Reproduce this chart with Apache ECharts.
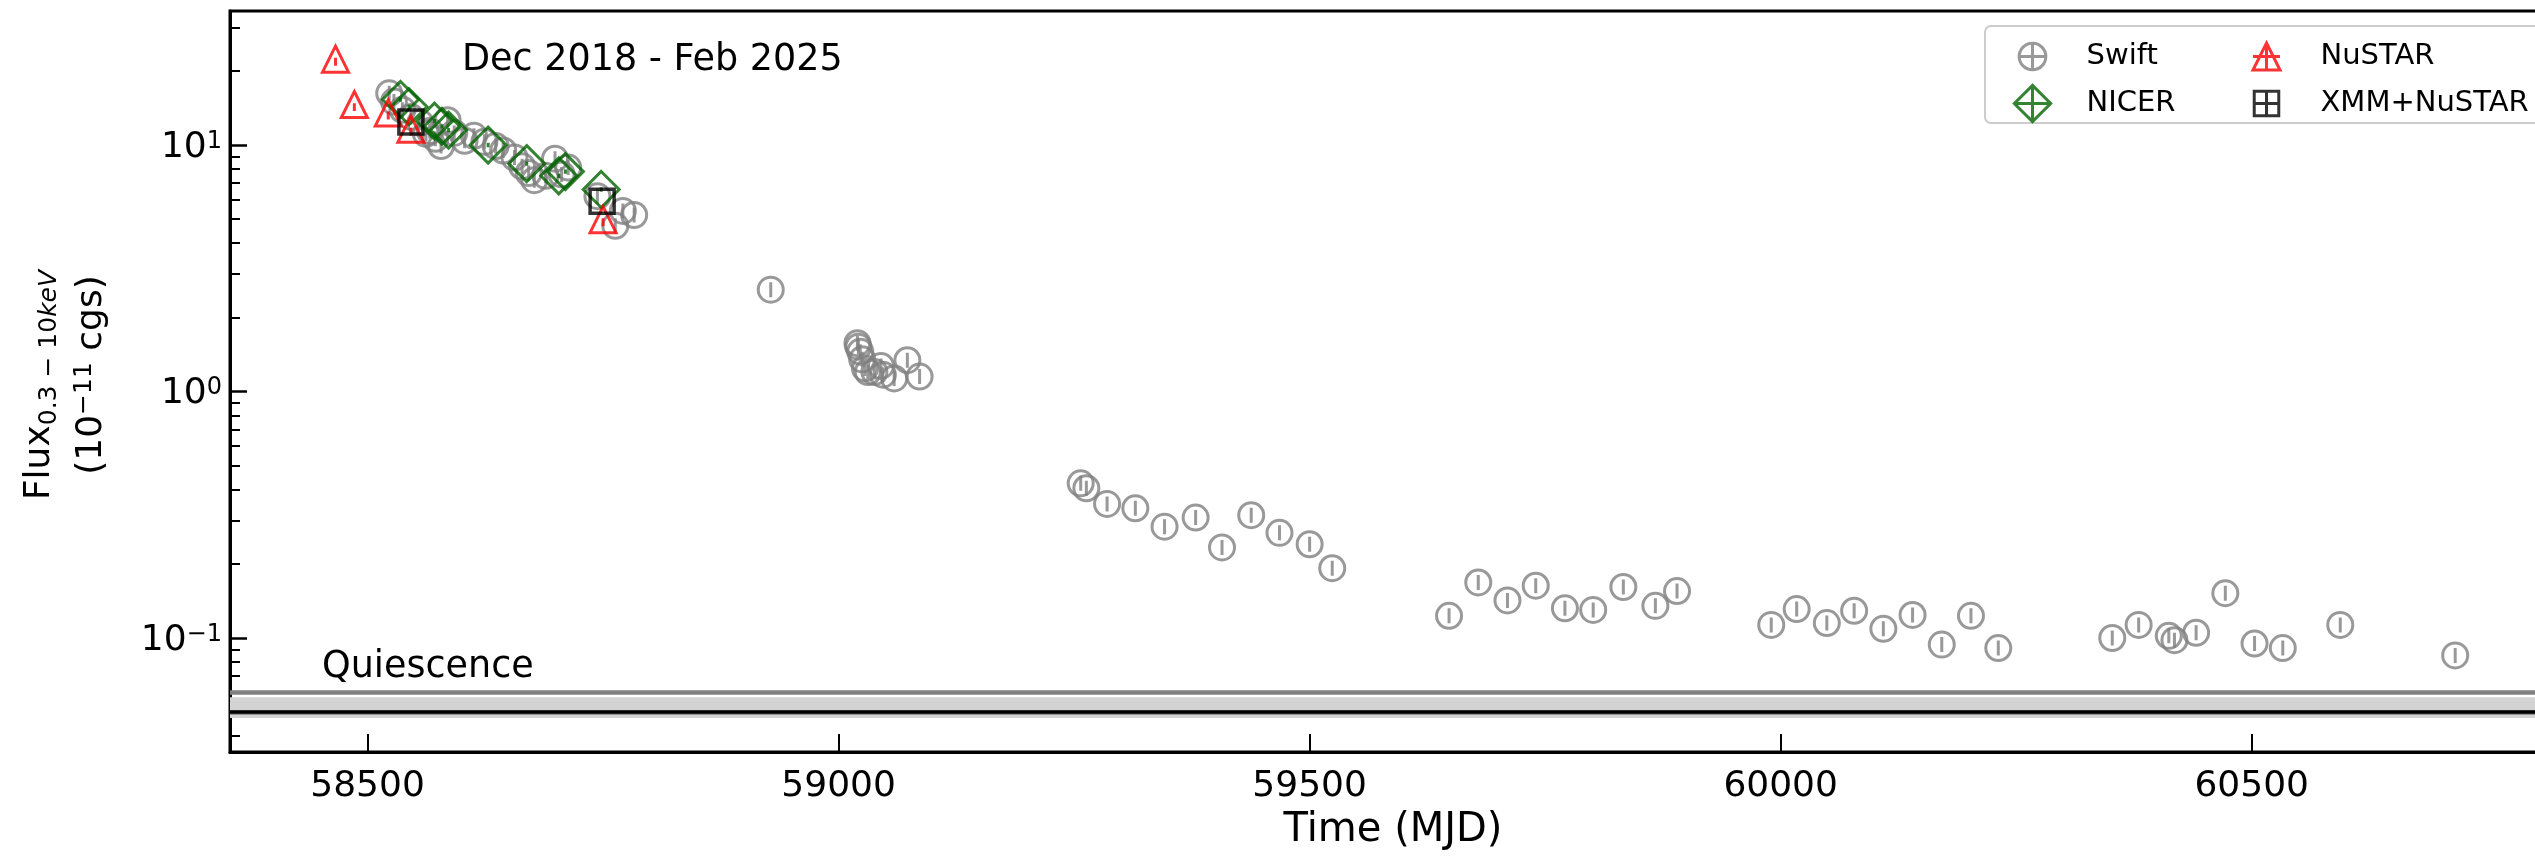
<!DOCTYPE html>
<html>
<head>
<meta charset="utf-8">
<script src="https://cdn.jsdelivr.net/npm/echarts@6.0.0/dist/echarts.min.js"></script>
<style>
  html, body { margin: 0; padding: 0; background: #fff; }
  #chart { width: 2535px; height: 859px; }
</style>
</head>
<body>
<div id="chart"></div>
<script>
// Swift light curve (MJD, flux in 1e-11 cgs)
const swiftMjd = [
  58523, 58528, 58537, 58546, 58556, 58562, 58566, 58572, 58578, 58585,
  58592, 58603, 58613, 58624, 58636, 58644, 58656, 58664, 58671, 58677,
  58689, 58699, 58706, 58713, 58744, 58763, 58771, 58783,
  58928, 59020, 59021, 59023, 59025, 59028, 59031, 59038, 59045, 59047,
  59059, 59073, 59086,
  59257, 59263, 59285, 59315, 59346, 59379, 59407, 59438, 59468, 59500, 59524,
  59648, 59679, 59710, 59740, 59771, 59801, 59833, 59867, 59890,
  59990, 60017, 60049, 60078, 60109, 60140, 60171, 60202, 60231,
  60352, 60380, 60412, 60418, 60441, 60472, 60503, 60533, 60594, 60716
];
const swiftFlux = [
  16.2, 15.0, 13.9, 13.0, 12.3, 11.1, 11.4, 10.6, 9.9, 12.6,
  11.2, 10.4, 10.9, 10.3, 9.9, 9.5, 8.9, 8.2, 7.7, 7.2,
  7.5, 8.8, 7.6, 8.1, 6.2, 4.7, 5.4, 5.2,
  2.59, 1.57, 1.52, 1.45, 1.35, 1.24, 1.20, 1.20, 1.27, 1.17,
  1.13, 1.34, 1.15,
  0.424, 0.405, 0.350, 0.336, 0.283, 0.308, 0.233, 0.315, 0.267, 0.240, 0.192,
  0.123, 0.168, 0.142, 0.163, 0.132, 0.130, 0.161, 0.135, 0.155,
  0.113, 0.131, 0.115, 0.129, 0.109, 0.124, 0.094, 0.123, 0.091,
  0.100, 0.113, 0.102, 0.098, 0.105, 0.152, 0.095, 0.091, 0.113, 0.085
];

const nicerMjd = [58535, 58544, 58571, 58579, 58586, 58628, 58669, 58703, 58710, 58748];
const nicerFlux = [15.3, 14.3, 12.5, 11.9, 11.5, 10.0, 8.4, 7.5, 7.8, 6.6];

const nustarMjd = [58466, 58486, 58522, 58546, 58750];
const nustarFlux = [22.3, 14.6, 13.5, 11.6, 4.98];

const xmmMjd = [58546, 58749];
const xmmFlux = [12.4, 5.91];

// quiescent level and its range
const quiescenceLevel = 0.0525;
const quiescenceRange = [0.0474, 0.0575];

const xTicks = [58500, 59000, 59500, 60000, 60500];
const yMajorTicks = [0.1, 1, 10];
const yMinorTicks = [0.04, 0.05, 0.06, 0.07, 0.08, 0.09,
  0.2, 0.3, 0.4, 0.5, 0.6, 0.7, 0.8, 0.9,
  2, 3, 4, 5, 6, 7, 8, 9, 20, 30];

const FONT = '"DejaVu Sans", "Liberation Sans", sans-serif';
const pairs = (xs, ys) => xs.map((x, i) => [x, ys[i]]);

// marker shapes (outline + small error bar)
const SWIFT_SYMBOL = 'path://M1,0A1,1,0,1,1,-1,0A1,1,0,1,1,1,0ZM0,-0.6L0,0.6';
const NICER_SYMBOL = 'path://M0,-1L1,0L0,1L-1,0ZM0,-0.12L0,0.12';
const NUSTAR_SYMBOL = 'path://M0,-1L1,1L-1,1ZM0,-0.1L0,0.5';
const XMM_SYMBOL = 'path://M-1,-1L1,-1L1,1L-1,1Z';

// legend icons (with errorbar cross), padded so they keep their size in a 40px box
const SWIFT_ICON = 'path://M-1.5,-1.5M1.5,1.5M1,0A1,1,0,1,1,-1,0A1,1,0,1,1,1,0ZM-1,0L1,0M0,-1L0,1';
const NICER_ICON = 'path://M-1.1,-1.1M1.1,1.1M0,-1L1,0L0,1L-1,0ZM-1,0L1,0M0,-1L0,1';
const NUSTAR_ICON = 'path://M-1.48,-1.48M1.48,1.48M0,-1L1,1L-1,1ZM-1,0L1,0M0,-1L0,1';
const XMM_ICON = 'path://M-1.63,-1.63M1.63,1.63M-1,-1L1,-1L1,1L-1,1ZM-1,0L1,0M0,-1L0,1';

const supText = (exp) => (exp < 0 ? '\u2212' + (-exp) : String(exp));

const yLabelRich = {
  b: { fontSize: 36, lineHeight: 36, fontFamily: FONT, color: '#000' },
  s: { fontSize: 24, lineHeight: 16, verticalAlign: 'top', fontFamily: FONT, color: '#000' }
};

const legendCommon = {
  orient: 'vertical',
  itemWidth: 40,
  itemHeight: 40,
  itemGap: 4,
  selectedMode: false,
  z: 10,
  itemStyle: { borderWidth: 3 },
  textStyle: { fontSize: 29, color: '#000', fontFamily: FONT, padding: [0, 0, 0, 29] }
};

const chart = echarts.init(document.getElementById('chart'));

const option = {
  animation: false,
  backgroundColor: '#fff',
  textStyle: { fontFamily: FONT },
  grid: {
    left: 230,
    top: 11,
    right: -21,
    bottom: 107,
    containLabel: false,
    outerBoundsMode: 'none',
    show: true,
    borderColor: '#000',
    borderWidth: 3,
    backgroundColor: 'transparent'
  },
  xAxis: {
    type: 'value',
    min: 58354,
    max: 60823,
    axisLine: { onZero: false, lineStyle: { color: '#000', width: 3 } },
    axisTick: { inside: true, length: 18, lineStyle: { color: '#000', width: 2 }, customValues: xTicks },
    axisLabel: {
      customValues: xTicks,
      formatter: (v) => String(v),
      fontSize: 36, color: '#000', margin: 17, fontFamily: FONT
    },
    splitLine: { show: false },
    name: 'Time (MJD)',
    nameLocation: 'middle',
    nameGap: 59,
    nameTextStyle: { fontSize: 40, color: '#000', fontFamily: FONT }
  },
  yAxis: [
    {
      type: 'log',
      logBase: 10,
      position: 'left',
      min: 0.03447,
      max: 34.97,
      axisLine: { onZero: false, lineStyle: { color: '#000', width: 3 } },
      axisTick: { inside: true, length: 17, lineStyle: { color: '#000', width: 2.5 }, customValues: yMajorTicks },
      axisLabel: {
        customValues: yMajorTicks,
        margin: 8,
        padding: [5, 0, 0, 0],
        formatter: (v) => '{b|10}{s|' + supText(Math.round(Math.log10(v))) + '}',
        rich: yLabelRich
      },
      splitLine: { show: false }
    },
    {
      type: 'log',
      logBase: 10,
      position: 'left',
      min: 0.03447,
      max: 34.97,
      axisLine: { show: false, onZero: false },
      axisTick: { inside: true, length: 10, lineStyle: { color: '#000', width: 2 }, customValues: yMinorTicks },
      axisLabel: { show: false },
      splitLine: { show: false }
    }
  ],
  legend: [
    Object.assign({}, legendCommon, {
      left: 2006, top: 30,
      data: [{ name: 'Swift', icon: SWIFT_ICON }, { name: 'NICER', icon: NICER_ICON }]
    }),
    Object.assign({}, legendCommon, {
      left: 2240, top: 30,
      data: [{ name: 'NuSTAR', icon: NUSTAR_ICON }, { name: 'XMM+NuSTAR', icon: XMM_ICON }]
    })
  ],
  graphic: [
    {
      type: 'rect', z: 3,
      shape: { x: 1985, y: 26, width: 620, height: 97, r: 6 },
      style: { fill: 'rgba(255,255,255,0.8)', stroke: '#cccccc', lineWidth: 2 }
    },
    {
      type: 'text', x: 462, y: 61, z: 5,
      style: { text: 'Dec 2018 - Feb 2025', fontSize: 36.5, fontFamily: FONT, fill: '#000', align: 'left', verticalAlign: 'middle' }
    },
    {
      type: 'text', x: 322, y: 668, z: 5,
      style: { text: 'Quiescence', fontSize: 36.5, fontFamily: FONT, fill: '#000', align: 'left', verticalAlign: 'middle' }
    },
    {
      type: 'text', x: 42, y: 385, rotation: Math.PI / 2, z: 5,
      style: {
        text: '{m|Flux}{sub|0.3 \u2212 10}{subi|keV}',
        align: 'center', verticalAlign: 'middle',
        rich: {
          m: { fontSize: 36, lineHeight: 40, verticalAlign: 'top', fontFamily: FONT, fill: '#000' },
          sub: { fontSize: 25, lineHeight: 20, verticalAlign: 'bottom', fontFamily: FONT, fill: '#000' },
          subi: { fontSize: 25, lineHeight: 20, verticalAlign: 'bottom', fontStyle: 'italic', fontFamily: FONT, fill: '#000' }
        }
      }
    },
    {
      type: 'text', x: 92, y: 375, rotation: Math.PI / 2, z: 5,
      style: {
        text: '{m|(10}{sup|\u221211}{m| cgs)}',
        align: 'center', verticalAlign: 'middle',
        rich: {
          m: { fontSize: 36, lineHeight: 40, fontFamily: FONT, fill: '#000' },
          sup: { fontSize: 25, lineHeight: 16, verticalAlign: 'top', fontFamily: FONT, fill: '#000' }
        }
      }
    }
  ],
  series: [
    {
      name: 'Swift',
      type: 'scatter',
      yAxisIndex: 0,
      data: pairs(swiftMjd, swiftFlux),
      symbol: SWIFT_SYMBOL,
      symbolSize: 25,
      silent: true,
      itemStyle: { color: 'rgba(0,0,0,0)', borderColor: '#808080', borderWidth: 3 },
      markArea: {
        silent: true,
        itemStyle: { color: '#d3d3d3', borderWidth: 0 },
        data: [[{ yAxis: quiescenceRange[0] }, { yAxis: quiescenceRange[1] }]]
      },
      markLine: {
        silent: true,
        symbol: ['none', 'none'],
        label: { show: false },
        data: [
          { yAxis: quiescenceRange[0], lineStyle: { color: '#808080', width: 4.5, type: 'solid' } },
          { yAxis: quiescenceRange[1], lineStyle: { color: '#808080', width: 4.5, type: 'solid' } },
          { yAxis: quiescenceLevel, lineStyle: { color: '#000', width: 3.5, type: 'solid' } }
        ]
      }
    },
    {
      name: 'NICER',
      type: 'scatter',
      yAxisIndex: 0,
      data: pairs(nicerMjd, nicerFlux),
      symbol: NICER_SYMBOL,
      symbolSize: 36,
      silent: true,
      itemStyle: { color: 'rgba(0,0,0,0)', borderColor: '#006400', borderWidth: 3 }
    },
    {
      name: 'NuSTAR',
      type: 'scatter',
      yAxisIndex: 0,
      data: pairs(nustarMjd, nustarFlux),
      symbol: NUSTAR_SYMBOL,
      symbolSize: 26,
      silent: true,
      itemStyle: { color: 'rgba(0,0,0,0)', borderColor: '#ff0000', borderWidth: 3 }
    },
    {
      name: 'XMM+NuSTAR',
      type: 'scatter',
      yAxisIndex: 0,
      data: pairs(xmmMjd, xmmFlux),
      symbol: XMM_SYMBOL,
      symbolSize: 24,
      silent: true,
      itemStyle: { color: 'rgba(0,0,0,0)', borderColor: '#000', borderWidth: 3.5 }
    }
  ]
};

chart.setOption(option);
</script>
</body>
</html>
